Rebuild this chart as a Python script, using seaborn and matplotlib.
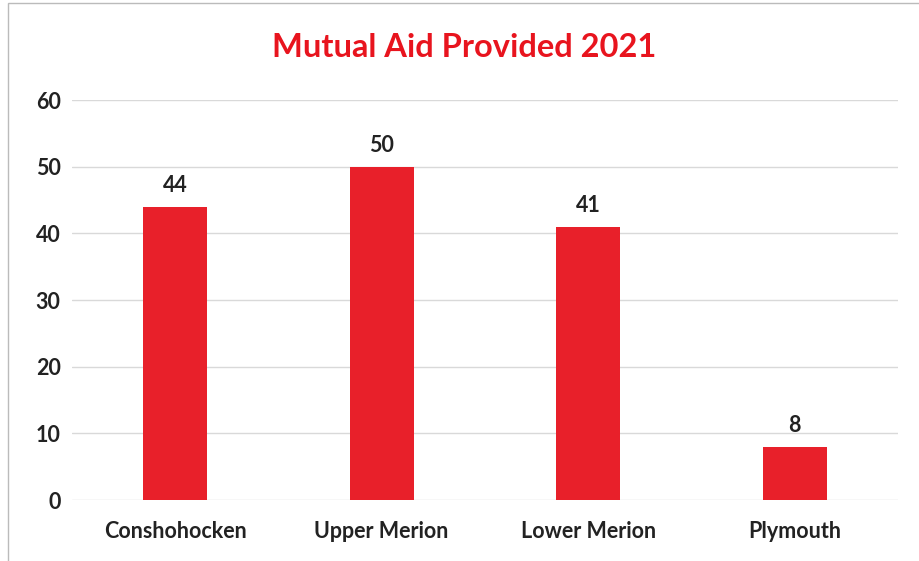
import matplotlib
matplotlib.use("Agg")
import matplotlib.pyplot as plt
import seaborn as sns
import pandas as pd
from matplotlib.patches import Rectangle

categories = ["Conshohocken", "Upper Merion", "Lower Merion", "Plymouth"]
values = [44, 50, 41, 8]
yticks = [0, 10, 20, 30, 40, 50, 60]

sns.set_theme(style="white")
plt.rcParams['font.family'] = ['Lato', 'DejaVu Sans']

df = pd.DataFrame({"town": categories, "count": values})

fig = plt.figure(figsize=(9.2, 5.61), dpi=100)
ax = fig.add_axes([0.078, 0.1087, 0.898, 0.713])
sns.barplot(data=df, x="town", y="count", color="#E8202A", saturation=1,
            width=0.31, ax=ax, zorder=3)
for p in ax.patches:
    p.set_edgecolor("none")

tick_fs = 15.5
ax.set_ylim(0, 60)
ax.set_yticks(yticks)
ax.set_yticklabels([str(t) for t in yticks], fontsize=tick_fs, fontweight="bold", color="#222222")
ax.set_xticklabels(categories, fontsize=tick_fs, fontweight="bold", color="#222222")
ax.set_xlabel("")
ax.set_ylabel("")
ax.grid(axis="y", color="#d9d9d9", linewidth=1, zorder=0)
ax.set_axisbelow(True)
for s in ax.spines.values():
    s.set_visible(False)
ax.tick_params(axis="x", length=0, pad=15)
ax.tick_params(axis="y", length=0, pad=8)

for i, v in enumerate(values):
    ax.annotate(str(v), (i, v), xytext=(0, 8), textcoords="offset points",
                ha="center", va="bottom", fontsize=tick_fs, fontweight="bold", color="#222222")

fig.text(0.505, 0.915, "Mutual Aid Provided 2021", ha="center", va="center",
         fontsize=23.5, fontweight="bold", color="#E8141E")

fig.patches.append(Rectangle((0.009, -0.01), 1.0, 1.004, transform=fig.transFigure,
                             fill=False, edgecolor="#bbbbbb", linewidth=1))

fig.savefig("out.png", dpi=100)
